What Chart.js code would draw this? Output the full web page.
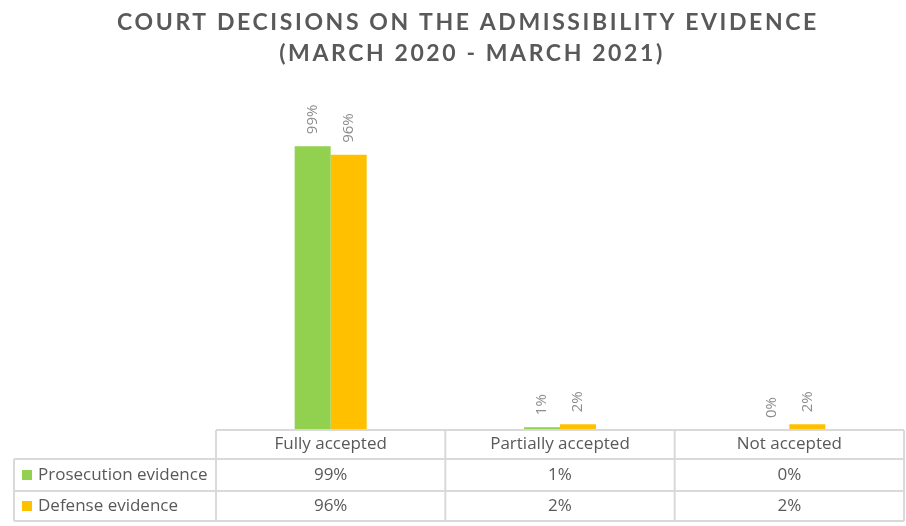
<!DOCTYPE html>
<html>
<head>
<meta charset="utf-8">
<script src="https://cdn.jsdelivr.net/npm/chart.js@4"></script>
<style>
  html, body { margin: 0; padding: 0; background: #fff; }
  #wrap { width: 906px; height: 526px; }
</style>
</head>
<body>
<div id="wrap"><canvas id="court-chart"></canvas></div>
<script>
const titleLines = ['COURT DECISIONS ON THE ADMISSIBILITY EVIDENCE', '(MARCH 2020 - MARCH 2021)'];
const categories = ['Fully accepted', 'Partially accepted', 'Not accepted'];
const prosecution = [99, 1, 0];
const defense = [96, 2, 2];
const seriesNames = ['Prosecution evidence', 'Defense evidence'];
const seriesColors = ['#92D050', '#FFC000'];

const textGray = '#595959';
const lineGray = '#D9D9D9';
const titleFont = 'Lato, "Open Sans", sans-serif';
const bodyFont = '"Open Sans", Lato, sans-serif';

// title with letter spacing, drawn in the top padding
const titlePlugin = {
  id: 'spacedTitle',
  afterDraw(chart) {
    const ctx = chart.ctx;
    ctx.save();
    ctx.fillStyle = textGray;
    ctx.font = 'bold 23px ' + titleFont;
    ctx.letterSpacing = '2.6px';
    ctx.textAlign = 'center';
    ctx.textBaseline = 'alphabetic';
    ctx.fillText(titleLines[0], 468, 30);
    ctx.fillText(titleLines[1], 472, 61);
    ctx.restore();
  }
};

// rotated value labels above each bar
const barLabels = {
  id: 'barLabels',
  afterDatasetsDraw(chart) {
    const ctx = chart.ctx;
    ctx.save();
    ctx.fillStyle = '#8C8C8C';
    ctx.font = '15px ' + bodyFont;
    ctx.textAlign = 'left';
    ctx.textBaseline = 'middle';
    chart.data.datasets.forEach((ds, i) => {
      chart.getDatasetMeta(i).data.forEach((bar, j) => {
        ctx.save();
        ctx.translate(bar.x, bar.y - 12);
        ctx.rotate(-Math.PI / 2);
        ctx.fillText(ds.data[j] + '%', 0, 0);
        ctx.restore();
      });
    });
    ctx.restore();
  }
};

// data table under the plot
const dataTable = {
  id: 'dataTable',
  afterDraw(chart) {
    const ctx = chart.ctx;
    const area = chart.chartArea;
    const x = chart.scales.x;
    const top = area.bottom;
    const rows = [top, 459, 491, 521];
    const left = 14;
    const colW = (area.right - area.left) / categories.length;

    ctx.save();
    ctx.strokeStyle = lineGray;
    ctx.lineWidth = 2;
    ctx.beginPath();
    // header row
    ctx.moveTo(area.left, rows[0]);
    ctx.lineTo(area.right, rows[0]);
    for (let r = 1; r < rows.length; r++) {
      ctx.moveTo(left, rows[r]);
      ctx.lineTo(area.right, rows[r]);
    }
    for (let c = 0; c <= categories.length; c++) {
      const cx = area.left + c * colW;
      ctx.moveTo(cx, rows[0]);
      ctx.lineTo(cx, rows[3]);
    }
    ctx.moveTo(left, rows[1]);
    ctx.lineTo(left, rows[3]);
    ctx.stroke();

    ctx.fillStyle = textGray;
    ctx.font = '17px ' + bodyFont;
    ctx.textAlign = 'center';
    ctx.textBaseline = 'middle';
    categories.forEach((cat, i) => {
      ctx.fillText(cat, x.getPixelForValue(i), (rows[0] + rows[1]) / 2);
    });

    chart.data.datasets.forEach((ds, r) => {
      const cy = (rows[r + 1] + rows[r + 2]) / 2;
      ctx.textAlign = 'center';
      ds.data.forEach((v, i) => {
        ctx.fillText(v + '%', x.getPixelForValue(i), cy);
      });
      ctx.fillStyle = ds.backgroundColor;
      ctx.fillRect(22, cy - 5, 10, 10);
      ctx.fillStyle = textGray;
      ctx.textAlign = 'left';
      ctx.fillText(ds.label, 38, cy);
    });
    ctx.restore();
  }
};

new Chart(document.getElementById('court-chart'), {
  type: 'bar',
  data: {
    labels: categories,
    datasets: [
      { label: seriesNames[0], data: prosecution, backgroundColor: seriesColors[0] },
      { label: seriesNames[1], data: defense, backgroundColor: seriesColors[1] }
    ]
  },
  options: {
    responsive: true,
    maintainAspectRatio: false,
    animation: false,
    categoryPercentage: 0.314,
    barPercentage: 1,
    layout: { padding: { left: 216, right: 2, top: 86, bottom: 96 } },
    plugins: {
      legend: { display: false },
      tooltip: { enabled: false },
      title: { display: false }
    },
    scales: {
      x: { display: false },
      y: { display: false, min: 0, max: 120 }
    }
  },
  plugins: [titlePlugin, barLabels, dataTable]
});
</script>
</body>
</html>
